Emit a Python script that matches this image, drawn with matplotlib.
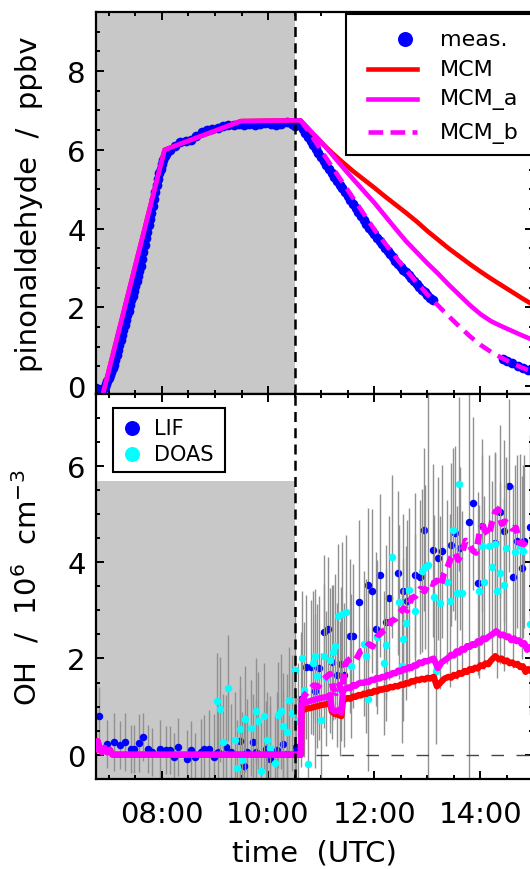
import matplotlib
matplotlib.use('Agg')
import matplotlib.pyplot as plt
from matplotlib.ticker import MultipleLocator, FuncFormatter
from matplotlib.patches import Rectangle
from matplotlib.lines import Line2D

# ---------------- data (time in hours UTC) ----------------
# pinonaldehyde measurement
pin_t = [6.75, 6.775, 6.80, 6.825, 6.85, 6.875, 6.90, 6.925, 6.95, 6.975,
         7.00, 7.025, 7.05, 7.075, 7.10, 7.125, 7.15, 7.175, 7.20, 7.225,
         7.25, 7.275, 7.30, 7.325, 7.35, 7.375, 7.40, 7.425, 7.45, 7.475,
         7.50, 7.525, 7.55, 7.575, 7.60, 7.625, 7.65, 7.675, 7.70, 7.725,
         7.75, 7.775, 7.80, 7.825, 7.85, 7.875, 7.90, 7.925, 7.95, 7.975,
         8.00, 8.025, 8.05, 8.075, 8.10,
         8.15, 8.25, 8.35, 8.45, 8.55, 8.65, 8.75, 8.85, 8.95, 9.05,
         9.15, 9.25, 9.35, 9.45, 9.55, 9.65, 9.75, 9.85, 9.95, 10.05,
         10.15, 10.25, 10.35, 10.45, 10.50, 10.55,
         10.60, 10.65, 10.70, 10.75, 10.80, 10.85, 10.90, 10.95, 11.00, 11.05,
         11.10, 11.15, 11.20, 11.25, 11.30, 11.35, 11.40, 11.45, 11.50, 11.55,
         11.60, 11.65, 11.70, 11.75, 11.80, 11.85, 11.90, 11.95, 12.00, 12.05,
         12.10, 12.15, 12.20, 12.25, 12.30, 12.35, 12.40, 12.45, 12.50, 12.55,
         12.60, 12.65, 12.70, 12.75, 12.80, 12.85, 12.90, 12.95, 13.00, 13.05,
         13.10,
         14.42, 14.50, 14.60, 14.70, 14.80, 14.90, 15.00]
pin_meas = [-0.05, -0.10, -0.12, -0.15, -0.15, -0.12, -0.08, -0.02, 0.05, 0.12,
            0.20, 0.28, 0.35, 0.45, 0.55, 0.67, 0.80, 0.92, 1.05, 1.18,
            1.30, 1.42, 1.55, 1.68, 1.80, 1.92, 2.05, 2.18, 2.30, 2.42,
            2.55, 2.68, 2.80, 2.92, 3.05, 3.22, 3.40, 3.58, 3.75, 3.92,
            4.10, 4.25, 4.40, 4.58, 4.75, 4.92, 5.10, 5.25, 5.40, 5.52,
            5.65, 5.75, 5.85, 5.90, 5.95,
            6.00, 6.10, 6.20, 6.22, 6.25, 6.35, 6.45, 6.50, 6.52, 6.55,
            6.60, 6.62, 6.62, 6.65, 6.62, 6.65, 6.62, 6.65, 6.68, 6.65,
            6.62, 6.65, 6.70, 6.65, 6.60, 6.62,
            6.62, 6.52, 6.42, 6.32, 6.22, 6.12, 6.02, 5.92, 5.82, 5.72,
            5.62, 5.52, 5.42, 5.32, 5.22, 5.12, 5.02, 4.92, 4.82, 4.72,
            4.62, 4.52, 4.42, 4.32, 4.22, 4.12, 4.02, 3.94, 3.86, 3.77,
            3.68, 3.60, 3.52, 3.43, 3.35, 3.27, 3.19, 3.11, 3.03, 2.96,
            2.89, 2.81, 2.74, 2.66, 2.59, 2.52, 2.45, 2.38, 2.31, 2.25,
            2.19,
            0.70, 0.65, 0.60, 0.52, 0.47, 0.42, 0.38]

# pinonaldehyde model runs (common injection phase, then decay)
inj_t = [6.75, 6.87, 8.05, 9.49, 10.61]
inj_pin = [-0.30, -0.30, 6.00, 6.73, 6.75]
dec_t = [10.61, 10.8, 11.0, 11.2, 11.4, 11.6, 11.8, 12.0, 12.2, 12.4, 12.6,
         12.8, 13.0, 13.2, 13.4, 13.6, 13.8, 14.0, 14.2, 14.4, 14.6, 14.8, 15.0]
mcm_pin = [6.75, 6.47, 6.19, 5.93, 5.69, 5.46, 5.25, 5.04, 4.82, 4.61, 4.40,
           4.18, 3.94, 3.72, 3.50, 3.30, 3.10, 2.91, 2.73, 2.56, 2.39, 2.22, 2.06]
mcma_pin = [6.75, 6.48, 6.20, 5.89, 5.57, 5.26, 4.96, 4.66, 4.33, 4.00, 3.68,
            3.40, 3.12, 2.86, 2.58, 2.32, 2.06, 1.83, 1.65, 1.52, 1.40, 1.28, 1.17]
mcmb_pin = [6.75, 6.40, 5.98, 5.58, 5.18, 4.78, 4.38, 3.98, 3.63, 3.28, 2.95,
            2.63, 2.33, 2.05, 1.78, 1.52, 1.27, 1.05, 0.87, 0.72, 0.58, 0.46, 0.36]

# OH measurements (10^6 cm-3)
lif_t = [6.81, 6.97, 7.09, 7.22, 7.31, 7.41, 7.47, 7.56, 7.65, 7.73,
         7.82, 7.97, 8.07, 8.15, 8.22, 8.31, 8.47, 8.55, 8.63, 8.73,
         8.80, 8.88, 8.98, 9.05, 9.21, 9.30, 9.47, 9.55, 9.60, 9.72,
         9.78, 9.97, 10.04, 10.17, 10.29, 10.36, 10.50, 10.53,
         10.62, 10.72, 10.80, 10.89, 10.96, 11.05, 11.13, 11.21, 11.30, 11.37,
         11.44, 11.54, 11.60, 11.71, 11.88, 11.96, 12.04, 12.11, 12.23, 12.28,
         12.45, 12.54, 12.62, 12.77, 12.87, 12.94, 13.11, 13.20, 13.28, 13.45,
         13.53, 13.61, 13.78, 13.86, 13.95, 14.03, 14.28, 14.37, 14.44, 14.53,
         14.61, 14.69, 14.78, 14.83, 14.93]
lif_oh = [0.80, 0.22, 0.26, 0.20, 0.26, 0.12, 0.12, 0.24, 0.36, 0.12,
          0.06, 0.12, 0.10, 0.10, -0.05, 0.16, -0.09, 0.10, -0.05, 0.05,
          0.12, 0.12, -0.05, 0.06, 0.15, 0.05, 0.29, -0.23, 0.05, 0.27,
          0.05, 0.12, -0.09, 0.10, 0.22, 0.01, 0.04, 0.15,
          1.15, 1.82, 1.82, 1.33, 1.81, 2.55, 2.62, 1.92, 1.65, 1.89,
          1.65, 2.46, 2.46, 3.18, 3.52, 3.40, 2.62, 3.73, 2.76, 3.26,
          3.78, 3.40, 3.19, 3.74, 3.70, 4.68, 4.25, 4.08, 4.23, 4.37,
          4.61, 4.29, 4.83, 5.23, 3.56, 4.76, 4.40, 5.05, 4.65, 5.59,
          3.70, 4.44, 3.89, 4.44, 4.74]
lif_err = [0.6, 0.5, 0.6, 0.5, 0.6, 0.5, 0.5, 0.6, 0.5, 0.5,
           0.5, 0.6, 0.5, 0.5, 0.5, 0.6, 0.6, 0.6, 0.5, 0.7,
           0.7, 0.8, 0.9, 1.0, 1.1, 1.0, 1.1, 1.0, 1.1, 1.0,
           1.1, 1.0, 1.1, 1.2, 1.1, 1.2, 1.2, 1.1,
           1.4, 1.5, 1.4, 1.6, 1.5, 1.6, 1.5, 1.6, 1.5, 1.6,
           1.5, 1.6, 1.5, 1.7, 1.6, 1.7, 1.6, 1.7, 1.6, 1.7,
           1.7, 1.6, 1.7, 1.7, 1.6, 1.7, 1.8, 1.7, 1.8, 1.7,
           1.8, 1.7, 6.0, 1.8, 1.9, 1.8, 1.9, 1.8, 1.9, 1.8,
           1.9, 1.8, 1.9, 1.8, 1.9]

doas_t = [9.04, 9.09, 9.15, 9.24, 9.37, 9.42, 9.47, 9.51, 9.56, 9.67,
          9.77, 9.82, 9.87, 9.93, 9.98, 10.04, 10.14, 10.18, 10.24, 10.29,
          10.36, 10.40, 10.45, 10.50, 10.56,
          10.64, 10.68, 10.75, 10.85, 10.89, 10.93, 11.00, 11.05, 11.10, 11.16,
          11.22, 11.27, 11.31, 11.36, 11.39, 11.47, 11.56, 11.81, 11.85, 11.89,
          12.05, 12.18, 12.23, 12.33, 12.46, 12.52, 12.55, 12.60, 12.65, 12.76,
          12.90, 12.96, 13.02, 13.12, 13.17, 13.23, 13.37, 13.43, 13.48, 13.55,
          13.59, 13.65, 13.97, 14.03, 14.07, 14.17, 14.22, 14.28, 14.32, 14.37,
          14.44, 14.49, 14.66, 14.75, 14.80, 14.93]
doas_oh = [1.11, 0.94, 0.27, 1.38, 0.31, -0.28, 0.54, -0.11, 0.74, 0.55,
           0.90, 0.71, -0.33, 0.81, 0.31, 0.13, -0.17, 0.83, 0.90, 0.59,
           0.47, 1.14, 0.87, 1.77, 0.71,
           2.01, 1.35, -0.19, 1.91, 2.05, 1.63, 0.72, 2.05, 1.59, 1.96,
           2.13, 2.25, 2.88, 1.37, 2.93, 2.97, 1.85, 2.31, 2.06, 1.16,
           2.45, 1.91, 2.29, 4.12, 3.17, 1.85, 2.40, 2.74, 3.42, 2.98,
           3.83, 3.90, 3.95, 3.28, 1.73, 3.16, 3.59, 3.20, 4.68, 3.37,
           5.63, 3.36, 3.40, 4.33, 3.59, 4.34, 3.90, 4.38, 3.40, 3.78,
           3.53, 4.29, 4.22, 4.35, 4.23, 2.72]
doas_err = [1.0, 1.1, 1.0, 1.1, 1.0, 1.0, 1.1, 1.0, 1.1, 1.0,
            1.1, 1.0, 1.0, 1.1, 1.0, 1.1, 1.0, 1.1, 1.2, 1.1,
            1.2, 1.1, 1.2, 1.2, 1.2,
            1.4, 1.4, 1.3, 1.5, 1.4, 1.5, 1.4, 1.5, 1.4, 1.5,
            1.4, 1.5, 1.5, 1.4, 1.5, 1.6, 1.5, 1.5, 1.6, 1.5,
            1.6, 1.5, 1.6, 1.7, 1.6, 1.6, 1.7, 1.6, 1.7, 1.6,
            1.7, 1.7, 6.0, 1.7, 1.5, 1.8, 1.7, 1.8, 1.7, 1.8,
            1.8, 1.7, 1.8, 1.9, 1.8, 1.9, 1.8, 1.9, 1.8, 1.9,
            1.8, 1.9, 1.8, 1.9, 1.8, 1.9]

# OH model runs: dark phase (shared), then each run after the roof opens
dark_t = [6.75, 6.79, 6.83, 6.87, 6.92, 6.97, 7.02, 7.07, 10.62]
dark_oh = [0.12, 0.28, 0.12, 0.05, 0.14, 0.05, 0.10, 0.00, 0.00]
ohmcm_t = [10.63, 10.70, 10.80, 10.90, 11.00, 11.10, 11.17, 11.20, 11.25, 11.32,
           11.38, 11.41, 11.45, 11.50, 11.55, 11.60, 11.65, 11.70, 11.75, 11.80,
           11.85, 11.90, 11.95, 12.00, 12.05, 12.10, 12.15, 12.20, 12.25, 12.30,
           12.35, 12.40, 12.45, 12.50, 12.55, 12.60, 12.65, 12.70, 12.75, 12.80,
           12.85, 12.90, 12.95, 13.00, 13.05, 13.12, 13.18, 13.25, 13.32, 13.40,
           13.45, 13.50, 13.55, 13.60, 13.65, 13.70, 13.75, 13.80, 13.85, 13.90,
           13.95, 14.00, 14.05, 14.10, 14.15, 14.20, 14.28, 14.35, 14.40, 14.45,
           14.50, 14.55, 14.60, 14.65, 14.70, 14.75, 14.80, 14.85, 14.90, 14.95,
           15.00]
ohmcm = [0.90, 0.95, 0.97, 1.00, 1.03, 1.05, 1.08, 0.90, 0.85, 0.83,
         0.80, 1.12, 1.15, 1.18, 1.16, 1.21, 1.20, 1.24, 1.23, 1.27,
         1.26, 1.30, 1.28, 1.33, 1.31, 1.36, 1.35, 1.38, 1.37, 1.41,
         1.40, 1.43, 1.42, 1.46, 1.45, 1.49, 1.48, 1.53, 1.52, 1.56,
         1.55, 1.58, 1.56, 1.60, 1.58, 1.62, 1.42, 1.50, 1.58, 1.62,
         1.60, 1.66, 1.64, 1.70, 1.68, 1.74, 1.72, 1.78, 1.76, 1.81,
         1.79, 1.86, 1.84, 1.90, 1.88, 1.96, 2.05, 1.98, 2.00, 1.94,
         1.96, 1.90, 1.92, 1.87, 1.89, 1.82, 1.84, 1.72, 1.78, 1.74,
         1.72]
ohmcma_t = [10.63, 10.70, 10.80, 10.90, 11.00, 11.10, 11.17, 11.20, 11.25, 11.32,
            11.38, 11.41, 11.45, 11.50, 11.55, 11.60, 11.65, 11.70, 11.75, 11.80,
            11.85, 11.90, 11.95, 12.00, 12.05, 12.10, 12.15, 12.20, 12.25, 12.30,
            12.35, 12.40, 12.45, 12.50, 12.55, 12.60, 12.65, 12.70, 12.75, 12.80,
            12.85, 12.90, 12.95, 13.00, 13.05, 13.12, 13.20, 13.27, 13.35, 13.40,
            13.45, 13.50, 13.55, 13.60, 13.65, 13.70, 13.75, 13.80, 13.85, 13.90,
            13.95, 14.00, 14.05, 14.10, 14.15, 14.22, 14.30, 14.38, 14.43, 14.48,
            14.53, 14.58, 14.63, 14.68, 14.73, 14.78, 14.83, 14.88, 14.94, 15.00]
ohmcma = [1.05, 1.08, 1.12, 1.15, 1.18, 1.20, 1.24, 0.95, 0.90, 0.92,
          0.88, 1.33, 1.36, 1.40, 1.38, 1.45, 1.43, 1.48, 1.50, 1.49,
          1.52, 1.51, 1.56, 1.55, 1.60, 1.58, 1.62, 1.61, 1.66, 1.65,
          1.70, 1.69, 1.75, 1.73, 1.78, 1.77, 1.82, 1.80, 1.86, 1.85,
          1.92, 1.90, 1.95, 1.94, 1.97, 2.00, 1.80, 1.92, 1.98, 2.02,
          2.08, 2.06, 2.15, 2.12, 2.20, 2.18, 2.26, 2.24, 2.30, 2.28,
          2.36, 2.33, 2.42, 2.40, 2.45, 2.50, 2.57, 2.48, 2.50, 2.45,
          2.46, 2.38, 2.42, 2.36, 2.38, 2.30, 2.32, 2.18, 2.24, 2.20]
ohmcmb_t = [10.63, 10.70, 10.78, 10.86, 10.95, 11.03, 11.10, 11.17, 11.22, 11.28,
            11.34, 11.40, 11.44, 11.50, 11.58, 11.66, 11.74, 11.82, 11.90, 11.97,
            12.05, 12.12, 12.18, 12.25, 12.32, 12.40, 12.48, 12.55, 12.62, 12.70,
            12.78, 12.87, 12.95, 13.02, 13.10, 13.18, 13.25, 13.31, 13.38, 13.45,
            13.52, 13.58, 13.65, 13.72, 13.78, 13.85, 13.92, 13.98, 14.04, 14.10,
            14.16, 14.22, 14.28, 14.34, 14.40, 14.46, 14.53, 14.60, 14.67, 14.74,
            14.82, 14.90, 15.00]
ohmcmb = [1.10, 1.25, 1.35, 1.44, 1.42, 1.55, 1.62, 1.68, 1.40, 1.28,
          1.45, 1.30, 1.85, 1.95, 2.02, 1.98, 2.15, 2.18, 2.30, 2.25,
          2.45, 2.52, 2.58, 2.62, 2.78, 2.82, 2.95, 3.04, 3.00, 3.25,
          3.30, 3.45, 3.40, 3.58, 3.55, 3.62, 3.50, 3.75, 3.90, 4.10,
          4.20, 4.05, 4.18, 4.45, 4.40, 4.25, 4.20, 4.60, 4.75, 4.65,
          4.55, 4.85, 5.05, 5.10, 4.80, 4.85, 4.80, 4.70, 4.72, 4.40,
          4.38, 4.48, 4.50]

t_start, t_end = 6.75, 15.0
roof_open = 10.5          # end of the dark (grey) phase
dark_box_top = 5.7        # grey box height in the OH panel
zero_line_start = 10.9

# ---------------- figure ----------------
plt.rcParams['font.family'] = ['DejaVu Sans']
plt.rcParams['mathtext.default'] = 'regular'

BLUE, CYAN, RED, MAG = '#0000ff', '#00ffff', '#ff0000', '#ff00ff'
GREY = '#c8c8c8'
EGREY = '#909090'
W, H = 530.0, 870.0


def fx(px):
    return px / W


def fy(py):
    return 1 - py / H


fig = plt.figure(figsize=(5.3, 8.7), dpi=100)
ax1 = fig.add_axes([0.1802, 0.5459, 0.8264, 0.4392])
ax2 = fig.add_axes([0.1802, 0.1038, 0.8264, 0.4421], sharex=ax1)

# --- top: pinonaldehyde ---
ax1.axvspan(t_start, roof_open, color=GREY, lw=0, zorder=0)
ax1.plot(pin_t, pin_meas, 'o', color=BLUE, ms=7, mew=0, zorder=2)
ax1.plot(inj_t + dec_t[1:], inj_pin + mcm_pin[1:], color=RED, lw=3.3, zorder=3)
ax1.plot(inj_t + dec_t[1:], inj_pin + mcma_pin[1:], color=MAG, lw=3.3, zorder=4)
ax1.plot(dec_t, mcmb_pin, color=MAG, lw=3.3, ls=(0, (2.8, 1.7)), zorder=4)
ax1.axvline(roof_open, color='black', lw=1.8, ls=(0, (4, 2.5)), zorder=5)
ax1.set_ylim(-0.2, 9.5)
ax1.yaxis.set_major_locator(MultipleLocator(2))
ax1.yaxis.set_minor_locator(MultipleLocator(0.5))
ax1.set_ylabel('pinonaldehyde  /  ppbv', fontsize=21)
ax1.yaxis.set_label_coords(-0.12, 0.5)

# --- bottom: OH ---
ax2.fill_between([t_start, roof_open], -0.5, dark_box_top, color=GREY, lw=0, zorder=0)
ax2.errorbar(lif_t, lif_oh, yerr=lif_err, fmt='none', ecolor=EGREY,
             elinewidth=1.0, capsize=0, zorder=1)
ax2.plot(lif_t, lif_oh, 'o', color=BLUE, ms=5.4, mew=0, zorder=1.5)
ax2.errorbar(doas_t, doas_oh, yerr=doas_err, fmt='none', ecolor=EGREY,
             elinewidth=1.0, capsize=0, zorder=2)
ax2.plot(doas_t, doas_oh, 'o', color=CYAN, ms=5.4, mew=0, zorder=2.5)
ax2.plot([zero_line_start, t_end], [0, 0], color='#444444', lw=1.0,
         ls=(0, (9, 9)), zorder=2.6)
ax2.plot(dark_t + ohmcm_t, dark_oh + ohmcm, color=RED, lw=4.5, zorder=3)
ax2.plot(dark_t + ohmcma_t, dark_oh + ohmcma, color=MAG, lw=4.5, zorder=4)
ax2.plot(ohmcmb_t, ohmcmb, color=MAG, lw=4.5, ls=(0, (1.7, 1.1)), zorder=4)
ax2.axvline(roof_open, color='black', lw=1.8, ls=(0, (4, 2.5)), zorder=5)
ax2.set_ylim(-0.5, 7.5)
ax2.yaxis.set_major_locator(MultipleLocator(2))
ax2.yaxis.set_minor_locator(MultipleLocator(0.5))
ax2.set_ylabel('OH  /  10$^6$  cm$^{-3}$', fontsize=21)
ax2.yaxis.set_label_coords(-0.12, 0.5)
ax2.set_xlabel('time  (UTC)', fontsize=21, labelpad=8)

ax2.set_xlim(t_start, t_end)
ax2.xaxis.set_major_locator(MultipleLocator(2))
ax2.xaxis.set_minor_locator(MultipleLocator(0.5))
ax2.xaxis.set_major_formatter(FuncFormatter(lambda v, p: '%02d:00' % int(round(v))))
ax1.tick_params(axis='x', labelbottom=False)

for ax in (ax1, ax2):
    for sp in ax.spines.values():
        sp.set_linewidth(1.6)
    ax.spines['right'].set_visible(False)
    ax.tick_params(which='both', direction='in', top=True, right=True, width=1.4)
    ax.tick_params(which='major', length=6, labelsize=21)
    ax.tick_params(which='minor', length=3.2)
    ax.tick_params(axis='x', pad=15)
    ax.tick_params(axis='y', pad=7)

# --- legends drawn as boxes in figure pixels ---
fig.add_artist(Rectangle((fx(346), fy(156)), fx(560) - fx(346), fy(15) - fy(156),
                         transform=fig.transFigure, facecolor='white',
                         edgecolor='black', lw=1.5, zorder=10))
top_rows = [40, 70, 100, 133]
fig.add_artist(Line2D([fx(405)], [fy(top_rows[0])], marker='o', ls='none',
                      color=BLUE, ms=10.8, mew=0, transform=fig.transFigure, zorder=11))
for row, col, ls in [(top_rows[1], RED, '-'), (top_rows[2], MAG, '-'),
                     (top_rows[3], MAG, (0, (3.2, 1.6)))]:
    fig.add_artist(Line2D([fx(368), fx(417)], [fy(row), fy(row)], color=col,
                          lw=3.3, ls=ls, transform=fig.transFigure, zorder=11))
for row, lab in zip(top_rows, ['meas.', 'MCM', 'MCM_a', 'MCM_b']):
    fig.text(fx(440), fy(row), lab, fontsize=16, va='center', ha='left', zorder=11)

fig.add_artist(Rectangle((fx(112.7), fy(473.3)), fx(225) - fx(112.7),
                         fy(409.3) - fy(473.3), transform=fig.transFigure,
                         facecolor='white', edgecolor='black', lw=1.5, zorder=10))
for row, col, lab in [(429.3, BLUE, 'LIF'), (455, CYAN, 'DOAS')]:
    fig.add_artist(Line2D([fx(131.7)], [fy(row)], marker='o', ls='none', color=col,
                          ms=10.8, mew=0, transform=fig.transFigure, zorder=11))
    fig.text(fx(154), fy(row), lab, fontsize=15, va='center', ha='left', zorder=11)

fig.savefig('out.png', dpi=100)
